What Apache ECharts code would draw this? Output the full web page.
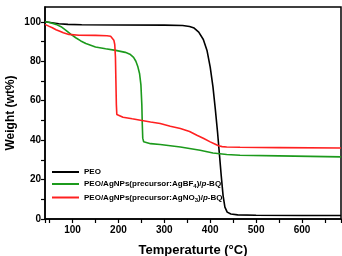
<!DOCTYPE html>
<html>
<head>
<meta charset="utf-8">
<script src="https://cdn.jsdelivr.net/npm/echarts@6/dist/echarts.min.js"></script>
<style>
  html, body { margin: 0; padding: 0; background: #fff; }
  #main { width: 342px; height: 256px; }
</style>
</head>
<body>
<div id="main"></div>
<script>
  // TGA curves
  var peoTemp = [40, 55, 70, 90, 120, 200, 300, 340, 355, 365, 375, 385, 393, 400, 406, 411, 416, 420, 424, 428, 432, 437, 445, 460, 500, 600, 685]
  var peoWeight = [100, 99.5, 99, 98.7, 98.5, 98.4, 98.3, 98.1, 97.6, 96.8, 94.8, 91, 85.5, 77, 67, 56, 44, 33, 22, 12, 6, 3.5, 2.5, 2.1, 1.9, 1.8, 1.8]

  var bf4Temp = [40, 50, 64, 75, 85, 96, 107, 118, 129, 150, 172, 194, 215, 225, 233, 238, 242, 246, 249, 251, 252, 253, 255, 259, 270, 291, 335, 378, 406, 436, 465, 550, 685]
  var bf4Weight = [100, 99.6, 98.7, 97.5, 95.8, 93.8, 91.9, 90.3, 89, 87.2, 86.3, 85.5, 84.5, 83.6, 82, 80, 77.5, 73.8, 68, 58, 48, 41, 39.2, 38.6, 38.2, 37.8, 36.5, 34.9, 33.5, 32.7, 32.3, 32, 31.5]

  var no3Temp = [40, 48, 56, 64, 71, 80, 92, 114, 150, 175, 183, 187, 190, 192, 193.5, 194.5, 195.5, 196.5, 198, 210, 230, 248, 270, 291, 313, 335, 355, 371, 386, 400, 410, 418, 426, 436, 465, 550, 685]
  var no3Weight = [98.7, 97.8, 97, 96, 95.3, 94.4, 93.6, 93.2, 93.1, 92.9, 92.7, 92, 90.7, 88.5, 82, 70, 58, 53, 52.2, 51.6, 50.8, 50.1, 49.2, 48.4, 47, 45.9, 44.4, 42.5, 40.8, 39.1, 38, 37.1, 36.7, 36.5, 36.4, 36.2, 36]

  var seriesNames = [
    'PEO',
    'PEO/AgNPs(precursor:AgBF4)/p-BQ',
    'PEO/AgNPs(precursor:AgNO3)/p-BQ'
  ]
  var legendRich = [
    '{b|PEO}',
    '{b|PEO/AgNPs(precursor:AgBF}{s|4}{b|)/}{i|p}{b|-BQ}',
    '{b|PEO/AgNPs(precursor:AgNO}{s|3}{b|)/}{i|p}{b|-BQ}'
  ]

  var font = 'Arial, "Liberation Sans", sans-serif'

  var pairs = function (xs, ys) {
    return xs.map(function (x, i) { return [x, ys[i]] })
  }

  var chart = echarts.init(document.getElementById('main'))

  var option = {
    animation: false,
    grid: {
      left: 45,
      right: 1,
      top: 7,
      bottom: 37,
      outerBoundsMode: 'none',
      containLabel: false,
      show: true,
      borderColor: '#000',
      borderWidth: 1.5
    },
    legend: {
      orient: 'vertical',
      left: 47,
      top: 163,
      icon: 'rect',
      itemWidth: 27,
      itemHeight: 2,
      itemGap: 4,
      data: seriesNames,
      formatter: function (name) {
        return legendRich[seriesNames.indexOf(name)]
      },
      textStyle: {
        fontFamily: font,
        rich: {
          b: { fontSize: 8, fontWeight: 'bold', color: '#000', fontFamily: font },
          i: { fontSize: 8, fontWeight: 'bold', fontStyle: 'italic', color: '#000', fontFamily: font },
          s: { fontSize: 6, fontWeight: 'bold', color: '#000', fontFamily: font, padding: [5, 0, 0, 0] }
        }
      }
    },
    xAxis: {
      type: 'value',
      min: 40,
      max: 685,
      minInterval: 50,
      maxInterval: 50,
      name: 'Temperaturte (°C)',
      nameLocation: 'middle',
      nameGap: 25,
      nameMoveOverlap: false,
      nameTextStyle: { fontFamily: font, fontSize: 13, fontWeight: 'bold', color: '#000' },
      axisLine: { lineStyle: { color: '#000', width: 1.5 } },
      axisTick: { inside: false, length: 4, lineStyle: { color: '#000', width: 1.2 } },
      splitLine: { show: false },
      axisLabel: {
        margin: 6,
        fontFamily: font,
        fontSize: 10,
        fontWeight: 'bold',
        color: '#000',
        formatter: function (v) { return v % 100 === 0 ? String(v) : '' }
      }
    },
    yAxis: {
      type: 'value',
      min: 0,
      max: 107.5,
      minInterval: 10,
      maxInterval: 10,
      name: 'Weight (wt%)',
      nameLocation: 'middle',
      nameGap: 28,
      nameMoveOverlap: false,
      nameTextStyle: { fontFamily: font, fontSize: 12, fontWeight: 'bold', color: '#000' },
      axisLine: { show: true, lineStyle: { color: '#000', width: 1.5 } },
      axisTick: { show: true, inside: false, length: 4, lineStyle: { color: '#000', width: 1.2 } },
      splitLine: { show: false },
      axisLabel: {
        margin: 4,
        fontFamily: font,
        fontSize: 10,
        fontWeight: 'bold',
        color: '#000',
        showMaxLabel: false,
        formatter: function (v) { return v % 20 === 0 ? String(v) : '' }
      }
    },
    series: [
      {
        name: seriesNames[0],
        type: 'line',
        data: pairs(peoTemp, peoWeight),
        symbol: 'none',
        lineStyle: { color: '#000', width: 1.6 },
        itemStyle: { color: '#000' }
      },
      {
        name: seriesNames[1],
        type: 'line',
        data: pairs(bf4Temp, bf4Weight),
        symbol: 'none',
        lineStyle: { color: '#1c9a1c', width: 1.6 },
        itemStyle: { color: '#1c9a1c' }
      },
      {
        name: seriesNames[2],
        type: 'line',
        data: pairs(no3Temp, no3Weight),
        symbol: 'none',
        lineStyle: { color: '#ff2020', width: 1.6 },
        itemStyle: { color: '#ff2020' }
      }
    ]
  }

  chart.setOption(option)
</script>
</body>
</html>
